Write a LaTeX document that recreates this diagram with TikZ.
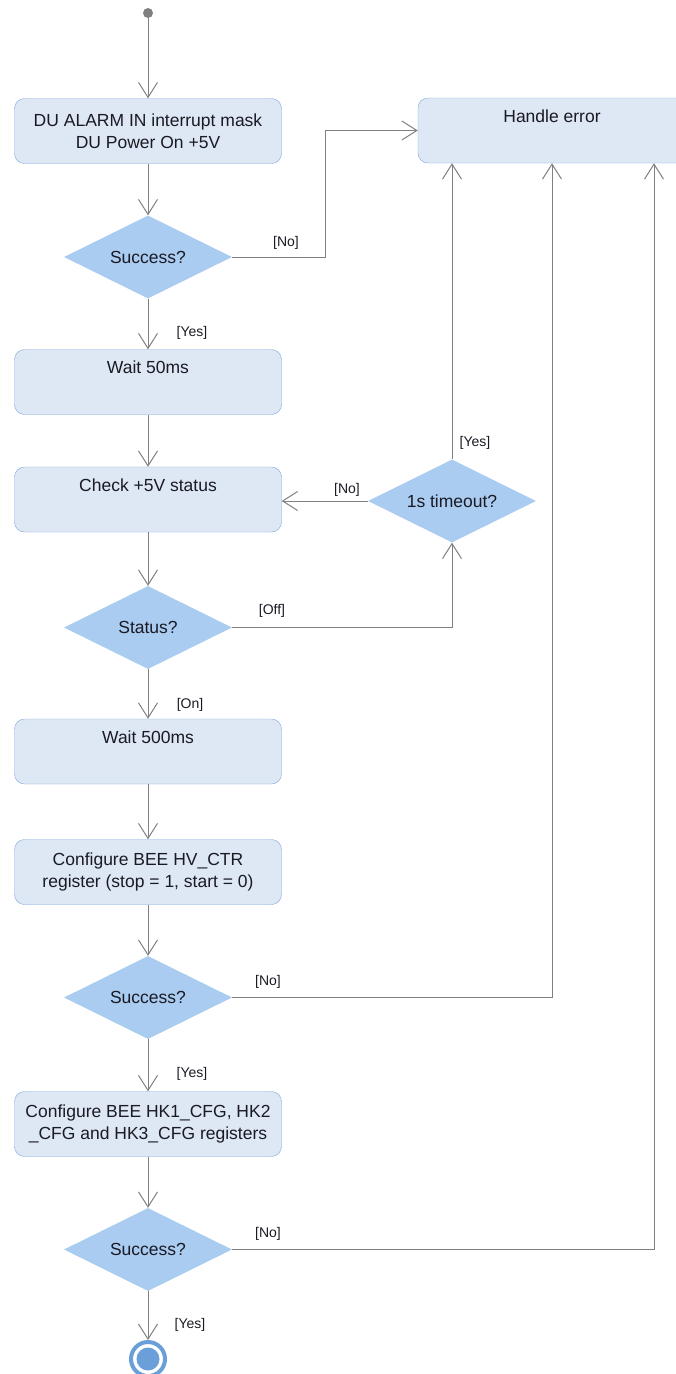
\documentclass[tikz,border=0pt]{standalone}
\usepackage{fontspec}
\setmainfont{Liberation Sans}
\usetikzlibrary{shapes.geometric, arrows.meta}
\definecolor{boxfill}{HTML}{DEE8F4}
\definecolor{boxline}{HTML}{7DA6DE}
\definecolor{diafill}{HTML}{A9CCF0}
\definecolor{wire}{HTML}{808080}
\definecolor{endblue}{HTML}{6A9FDA}
\definecolor{txt}{HTML}{1A1A24}
\begin{document}
\begin{tikzpicture}[x=1pt, y=-1pt, font=\fontsize{17.5}{22}\selectfont,
	act/.style = {draw=boxline, fill=boxfill, rounded corners=10pt, minimum width=267pt, minimum height=65pt, align=center, text=txt},
	act1/.style = {act, text depth=29pt},
	dec/.style = {diamond, fill=diafill, minimum width=168pt, minimum height=83pt, aspect=2, inner sep=2pt, text=txt},
	guard/.style = {font=\fontsize{14}{16}\selectfont, text=txt, inner sep=0pt},
	flow/.style = {draw=wire, line width=1pt, -{Straight Barb[length=15pt, width=19pt, line width=1pt]}}]

			\useasboundingbox (0,0) rectangle (676,1374);

			\node[fill=wire, circle, minimum size=10pt, inner sep=0pt] (start) at (148,13) {};
			\node[act] (power) at (148,131) {DU ALARM IN interrupt mask\\DU Power On +5V};
			\node[dec] (ok1) at (148,257) {Success?};
			\node[act1, minimum width=268pt] (err) at (552,130.5) {Handle error};
			\node[act1] (wait1) at (148,382) {Wait 50ms};
			\node[act1] (check) at (148,499.5) {Check +5V status};
			\node[dec] (tmo) at (452,501) {1s timeout?};
			\node[dec] (stat) at (148,627.5) {Status?};
			\node[act1] (wait2) at (148,751.5) {Wait 500ms};
			\node[act] (hvctr) at (148,872) {Configure BEE HV\_CTR\\register (stop = 1, start = 0)};
			\node[dec] (ok2) at (148,997.5) {Success?};
			\node[act] (hkcfg) at (148,1124) {Configure BEE HK1\_CFG, HK2\\\_CFG and HK3\_CFG registers};
			\node[dec] (ok3) at (148,1249.5) {Success?};
			\node[draw=endblue, line width=4pt, circle, minimum size=34pt, inner sep=0pt] (stop) at (148,1359) {};
			\node[fill=endblue, circle, minimum size=23pt, inner sep=0pt] (stopdot) at (stop) {};

			\node[guard] (no1) at (286,243) {[No]};
			\node[guard] (yes1) at (192,333) {[Yes]};
			\node[guard] (yes2) at (475,443) {[Yes]};
			\node[guard] (no2) at (347,490) {[No]};
			\node[guard] (off) at (272,611) {[Off]};
			\node[guard] (on) at (190,705) {[On]};
			\node[guard] (no3) at (268,982) {[No]};
			\node[guard] (yes3) at (192,1074) {[Yes]};
			\node[guard] (no4) at (268,1234) {[No]};
			\node[guard] (yes4) at (190,1325) {[Yes]};

			\draw[flow] (start) -- (power);
			\draw[flow] (power) -- (ok1);
			\draw[flow] (ok1.east) -- ++(93,0) |- (err.west);
			\draw[flow] (ok1) -- (wait1);
			\draw[flow] (wait1) -- (check);
			\draw[flow] (tmo.west) -- (tmo.west -| check.east);
			\draw[flow] (tmo.north) -- (tmo.north |- err.south);
			\draw[flow] (check) -- (stat);
			\draw[flow] (stat.east) -| (tmo.south);
			\draw[flow] (stat) -- (wait2);
			\draw[flow] (wait2) -- (hvctr);
			\draw[flow] (hvctr) -- (ok2);
			\draw[flow] (ok2.east) -| (err.south);
			\draw[flow] (ok2) -- (hkcfg);
			\draw[flow] (hkcfg) -- (ok3);
			\draw[flow] (ok3.east) -| ([xshift=102pt]err.south);
			\draw[flow] (ok3) -- (stop);
		\end{tikzpicture}
\end{document}
